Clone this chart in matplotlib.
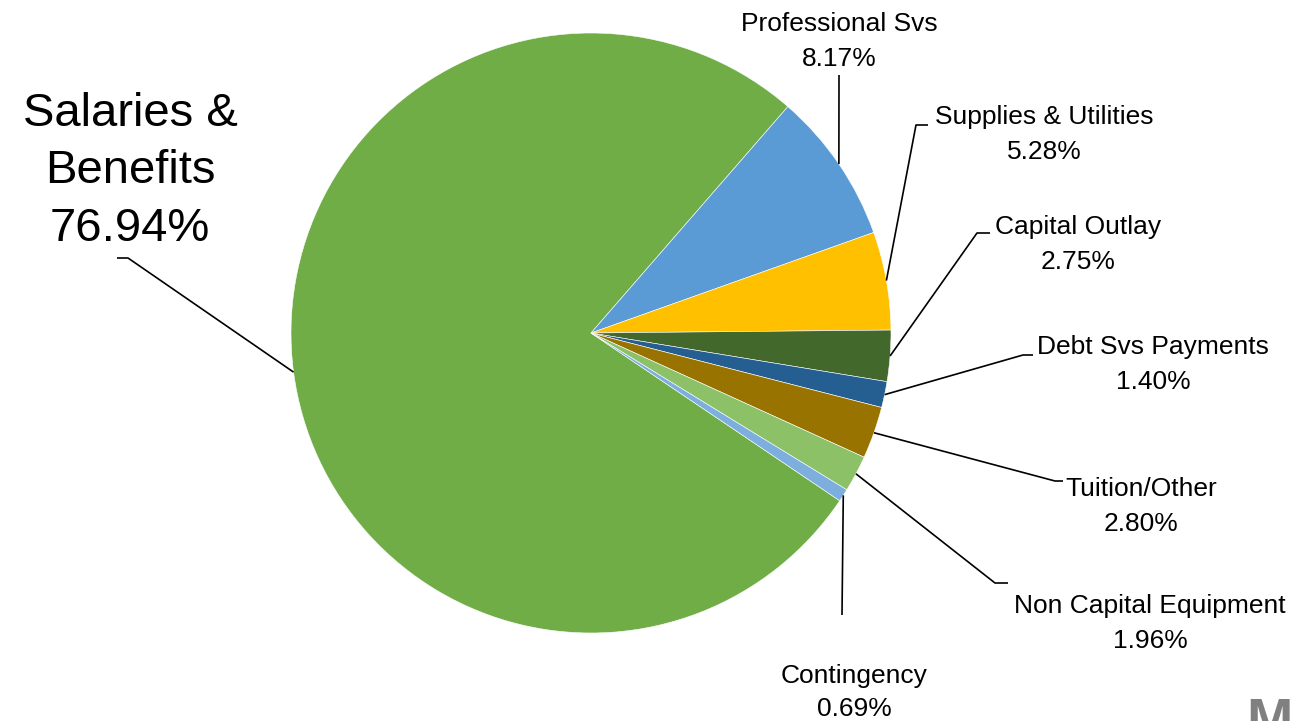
import numpy as np
import matplotlib.pyplot as plt

plt.rcParams['font.family'] = ['Liberation Sans', 'DejaVu Sans']

# budget shares, in the order they go round the pie (clockwise)
categories = ['Salaries &\nBenefits', 'Professional Svs', 'Supplies & Utilities', 'Capital Outlay',
              'Debt Svs Payments', 'Tuition/Other', 'Non Capital Equipment', 'Contingency']
shares = [76.94, 8.17, 5.28, 2.75, 1.40, 2.80, 1.96, 0.69]
colors = ['#70AD47', '#5B9BD5', '#FFC000', '#43682B', '#255E91', '#997300', '#8CC168', '#7CAFDD']

W, H = 1292, 721
fig = plt.figure(figsize=(W / 100, H / 100), dpi=100)
ax = fig.add_axes([0, 0, 1, 1])

def py(y):
    # picture rows run downwards, the axes run upwards
    return H - y

cx, cy, R = 591, py(333), 300
wedges, _ = ax.pie(shares, colors=colors, startangle=-34, counterclock=False,
                   center=(cx, cy), radius=R, frame=True,
                   wedgeprops=dict(edgecolor='white', linewidth=0.4))
ax.set_xlim(0, W)
ax.set_ylim(0, H)
ax.axis('off')

# label layout: (elbow point, end of short tick, text centre x, text top y, size, spacing)
layout = [
    ((128, 258), (117, 258), 130, 92, 34, 1.39),
    ((839, 75), (839, 75), 839, 12, 19, 1.6),
    ((916, 125), (928, 125), 1044, 105, 19, 1.6),
    ((977, 233), (990, 233), 1078, 215, 19, 1.6),
    ((1023, 355), (1033, 355), 1153, 335, 19, 1.6),
    ((1055, 481), (1063, 481), 1141, 477, 19, 1.6),
    ((995, 583), (1008, 583), 1150, 594, 19, 1.6),
    ((842, 615), (842, 615), 854, 664, 19, 1.5),
]

for w, name, val, (elb, end, tx, ty, fs, ls) in zip(wedges, categories, shares, layout):
    mid = np.deg2rad((w.theta1 + w.theta2) / 2)
    ax0 = cx + R * np.cos(mid)
    ay0 = cy + R * np.sin(mid)
    ax.plot([ax0, elb[0], end[0]], [ay0, py(elb[1]), py(end[1])],
            color='black', linewidth=1.2, solid_capstyle='butt')
    ax.text(tx, py(ty), f'{name}\n{val:.2f}%', ha='center', va='top',
            fontsize=fs, linespacing=ls, color='black')

# corner of a logo cut off at the bottom right
ax.text(1246, py(697), 'M', fontsize=40, fontweight='bold', color='#808080',
        ha='left', va='top')

fig.savefig('out.png', dpi=100)
